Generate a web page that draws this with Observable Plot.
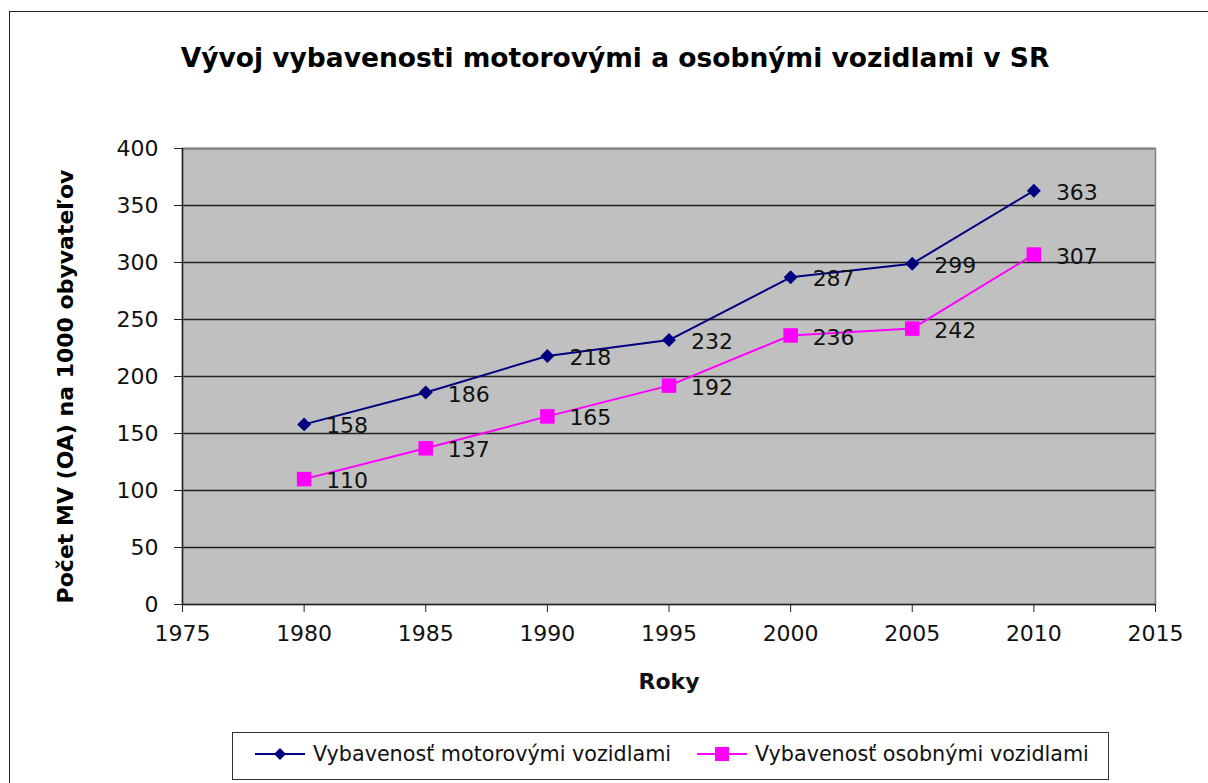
<!DOCTYPE html>
<html>
<head>
<meta charset="utf-8">
<script src="https://cdn.jsdelivr.net/npm/d3@7"></script>
<script src="https://cdn.jsdelivr.net/npm/@observablehq/plot@0.6"></script>
<style>
  html, body { margin: 0; padding: 0; background: #fff; overflow: hidden; width: 1208px; height: 783px; }
  body { position: relative; font-family: "DejaVu Sans", "Liberation Sans", Arial, sans-serif; }
  #frame { position: absolute; left: 9px; top: 11px; width: 1400px; height: 1000px; border: 1.5px solid #222; box-sizing: border-box; }
  #title { position: absolute; left: 0; top: 43px; width: 1230px; text-align: center; font-size: 26.5px; line-height: 30px; font-weight: bold; color: #000; white-space: nowrap; }
  #chart { position: absolute; left: 0; top: 110px; }
  #legend { position: absolute; left: 232px; top: 732px; width: 877px; height: 48px; border: 1.5px solid #333; box-sizing: border-box; background: #fff; font-size: 20.7px; color: #111; }
  .item { position: absolute; top: 0; height: 42px; display: flex; align-items: center; white-space: nowrap; }
  .item svg { margin-right: 8px; }
  svg [aria-label="x-axis label"] text, svg [aria-label="x-axis label"] { font-weight: bold; font-size: 22px; }
</style>
</head>
<body>
<div id="frame"></div>
<div id="title">Vývoj vybavenosti motorovými a osobnými vozidlami v SR</div>
<div id="chart"></div>
<div id="legend"></div>
<script>
const years = [1980, 1985, 1990, 1995, 2000, 2005, 2010];
const motorVehicles = [158, 186, 218, 232, 287, 299, 363];
const passengerCars = [110, 137, 165, 192, 236, 242, 307];
const seriesNames = ["Vybavenosť motorovými vozidlami", "Vybavenosť osobnými vozidlami"];
const xTicks = [1975, 1980, 1985, 1990, 1995, 2000, 2005, 2010, 2015];
const yTicks = [0, 50, 100, 150, 200, 250, 300, 350, 400];
const yTitle = "Počet MV (OA) na 1000 obyvateľov";
const xTitle = "Roky";
const colors = ["#000080", "#ff00ff"];

const motor = years.map((y, i) => ({year: y, value: motorVehicles[i]}));
const cars = years.map((y, i) => ({year: y, value: passengerCars[i]}));

const chart = Plot.plot({
  width: 1208,
  height: 600,
  marginTop: 38,
  marginBottom: 106,
  marginLeft: 182,
  marginRight: 53,
  style: {fontFamily: "'DejaVu Sans', 'Liberation Sans', Arial, sans-serif", fontSize: "22px", color: "#111", background: "transparent", overflow: "visible"},
  x: {domain: [1975, 2015]},
  y: {domain: [0, 400]},
  marks: [
    Plot.frame({fill: "#c0c0c0", stroke: "none"}),
    Plot.ruleY(yTicks.filter(d => d > 0), {stroke: "#222", strokeWidth: 1.3}),
    Plot.frame({stroke: "#808080", strokeWidth: 1.5}),
    Plot.ruleY([0], {stroke: "#222", strokeWidth: 1.5}),
    Plot.ruleX([1975], {stroke: "#222", strokeWidth: 1.5}),
    Plot.axisX({ticks: xTicks, tickFormat: d => String(d), tickSize: 8, tickPadding: 13, stroke: "#222",
      label: xTitle, labelAnchor: "center", labelOffset: 84, labelArrow: "none"}),
    Plot.axisY({ticks: yTicks, tickSize: 8, tickPadding: 16, stroke: "#222", label: null}),
    Plot.text([yTitle], {frameAnchor: "left", rotate: -90, dx: -117, dy: 10, textAnchor: "middle", fontWeight: "bold", fontSize: 22, fill: "#000"}),
    Plot.line(motor, {x: "year", y: "value", stroke: colors[0], strokeWidth: 2}),
    Plot.line(cars, {x: "year", y: "value", stroke: colors[1], strokeWidth: 2}),
    Plot.dot(motor, {x: "year", y: "value", symbol: "diamond2", r: 6.3, fill: colors[0], stroke: "none"}),
    Plot.dot(cars, {x: "year", y: "value", symbol: "square", r: 8.2, fill: colors[1], stroke: "none"}),
    Plot.text(motor, {x: "year", y: "value", text: d => String(d.value), dx: 22, dy: 2, textAnchor: "start", fontSize: 22, fill: "#111"}),
    Plot.text(cars, {x: "year", y: "value", text: d => String(d.value), dx: 22, dy: 2, textAnchor: "start", fontSize: 22, fill: "#111"})
  ]
});
document.getElementById("chart").appendChild(chart);

// Legend
const legend = document.getElementById("legend");
const positions = [22, 464];
seriesNames.forEach((name, i) => {
  const item = document.createElement("div");
  item.className = "item";
  item.style.left = positions[i] + "px";
  const sw = i === 0
    ? `<svg width="50" height="20"><line x1="0" y1="10" x2="50" y2="10" stroke="${colors[0]}" stroke-width="2"/><path d="M25,4 L31,10 L25,16 L19,10Z" fill="${colors[0]}"/></svg>`
    : `<svg width="50" height="20"><line x1="0" y1="10" x2="50" y2="10" stroke="${colors[1]}" stroke-width="2"/><rect x="18" y="3" width="14" height="14" fill="${colors[1]}"/></svg>`;
  item.innerHTML = sw + `<span>${name}</span>`;
  legend.appendChild(item);
});
</script>
</body>
</html>
